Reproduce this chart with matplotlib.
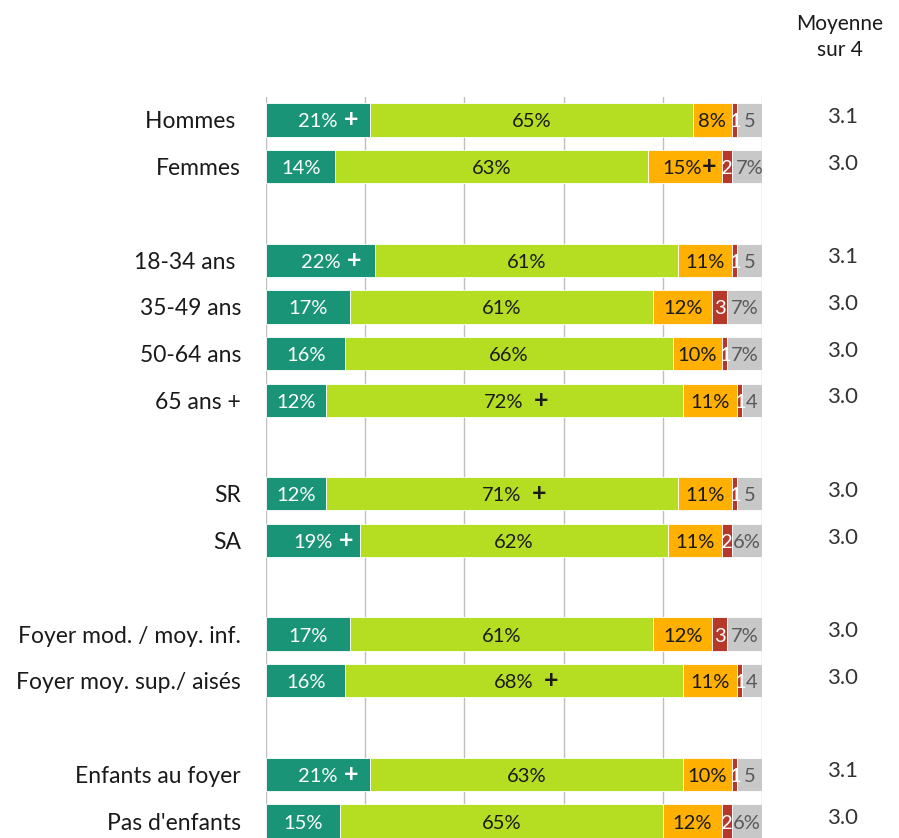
import matplotlib
matplotlib.use("Agg")
import matplotlib.pyplot as plt
import numpy as np

plt.rcParams['font.family'] = ['Lato', 'DejaVu Sans']

categories = ["Hommes ", "Femmes", "18-34 ans ", "35-49 ans", "50-64 ans", "65 ans +",
              "SR", "SA", "Foyer mod. / moy. inf.", "Foyer moy. sup./ aisés",
              "Enfants au foyer", "Pas d'enfants"]
group_sizes = [2, 4, 2, 2, 2]

tres = [21, 14, 22, 17, 16, 12, 12, 19, 17, 16, 21, 15]
plutot = [65, 63, 61, 61, 66, 72, 71, 62, 61, 68, 63, 65]
peu = [8, 15, 11, 12, 10, 11, 11, 11, 12, 11, 10, 12]
pas = [1, 2, 1, 3, 1, 1, 1, 2, 3, 1, 1, 2]
nsp = [5, 7, 5, 7, 7, 4, 5, 6, 7, 4, 5, 6]
moyenne = [3.1, 3.0, 3.1, 3.0, 3.0, 3.0, 3.0, 3.0, 3.0, 3.0, 3.1, 3.0]

# (row index, segment index) with significance "+"
plus_flags = [(0, 0), (1, 2), (2, 0), (5, 1), (6, 1), (7, 0), (9, 1), (10, 0)]

series = [tres, plutot, peu, pas, nsp]
colors = ["#1A9477", "#B5DD22", "#FFB000", "#B5382A", "#C8C8C8"]
txt_colors = ["white", "#1A1A1A", "#1A1A1A", "white", "#595959"]
plus_offsets = [24, 27, 17, 0, 0]

# y positions: groups separated by an empty slot
ypos = []
slot = 0
for g in group_sizes:
    for _ in range(g):
        ypos.append(slot)
        slot += 1
    slot += 1
ypos = np.array(ypos, dtype=float)
ymax = ypos[-1]

fig = plt.figure(figsize=(8.99, 8.38), dpi=100)
ax = fig.add_axes([266/899, 1 - 844.4/838, 496/899, (844.4 - 96.6)/838])

for x in [0, 20, 40, 60, 80, 100]:
    ax.axvline(x, color="#BFBFBF", lw=1.0, zorder=0)

left = np.zeros(len(categories))
for si, (vals, c) in enumerate(zip(series, colors)):
    vals = np.array(vals, dtype=float)
    ax.barh(ypos, vals, left=left, height=0.71, color=c, edgecolor="white",
            linewidth=0.6, zorder=2)
    for i, v in enumerate(vals):
        cx = left[i] + v / 2
        if si in (0, 1, 2):
            lab = f"{int(v)}%"
        elif si == 3:
            lab = f"{int(v)}"
        else:
            lab = f"{int(v)}%" if v >= 6 else f"{int(v)}"
        dx = -3 if (i, si) == (1, 2) else 0
        ax.annotate(lab, (cx, ypos[i]), xytext=(dx, -2), textcoords="offset pixels",
                    ha="center", va="center", fontsize=14.5,
                    color=txt_colors[si], zorder=3)
        if (i, si) in plus_flags:
            ax.annotate("+", (cx, ypos[i]), xytext=(plus_offsets[si], 0),
                        textcoords="offset points", ha="center", va="center",
                        fontsize=18, fontweight="bold", color=txt_colors[si], zorder=3)
    left = left + vals

ax.set_xlim(0, 100)
ax.set_ylim(ymax + 0.5, -0.5)
ax.set_xticks([])
ax.set_yticks([])
for s in ax.spines.values():
    s.set_visible(False)

# category labels
for i, cat in enumerate(categories):
    ax.annotate(cat, (0, ypos[i]), xytext=(-25, -2), textcoords="offset pixels",
                ha="right", va="center", fontsize=16.5, color="#1A1A1A",
                annotation_clip=False)

# moyenne column
for i, m in enumerate(moyenne):
    ax.annotate(f"{m:.1f}", (100, ypos[i]), xytext=(81, 3), textcoords="offset pixels",
                ha="center", va="center", fontsize=16, color="#333333",
                annotation_clip=False)

fig.text(840/899, 1 - 37/838, "Moyenne\nsur 4", ha="center", va="center",
         fontsize=15, linespacing=1.35, color="#1A1A1A")

fig.savefig("out.png", dpi=100)
